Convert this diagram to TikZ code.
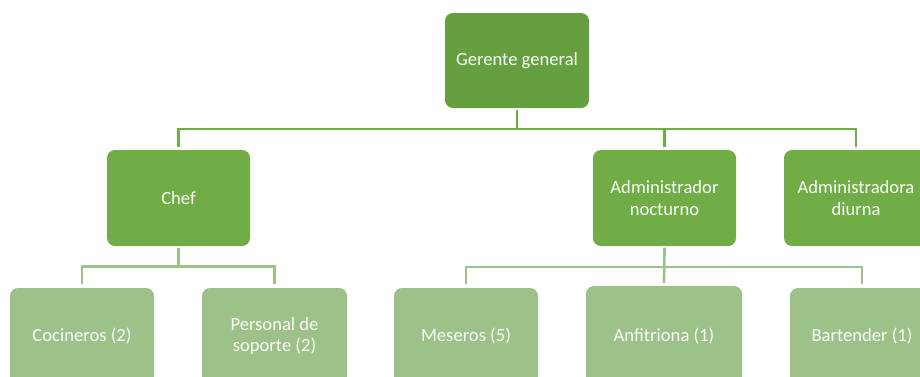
\documentclass[tikz,border=0pt]{standalone}
\usepackage{fontspec}
\setmainfont{Carlito}
\definecolor{gdark}{HTML}{669F3F}
\definecolor{gmid}{HTML}{70AD47}
\definecolor{glight}{HTML}{9DC289}
\definecolor{txt}{HTML}{F9FBF7}
\tikzset{
  box/.style={rectangle, rounded corners=8pt, inner sep=0pt, align=center,
    text=txt, font=\fontsize{18.6}{21.5}\selectfont, minimum width=144pt, minimum height=96pt},
  topbox/.style={box, fill=gdark},
  midbox/.style={box, fill=gmid},
  lowbox/.style={box, fill=glight},
  topline/.style={draw=gmid, line width=2.8pt},
  lowline/.style={draw=glight, line width=2.7pt},
}
\begin{document}
\begin{tikzpicture}[x=1pt,y=1pt]
\useasboundingbox (0,0) rectangle (920,-376);
\clip (0,0) rectangle (920,-376);
\node[topbox, minimum height=95pt] (ger) at (517,-60.5) {Gerente general};
\node[midbox, minimum width=143pt] (chef) at (178.5,-198) {Chef};
\node[midbox, minimum width=143pt] (admn) at (664.5,-198) {Administrador\\nocturno};
\node[midbox] (admd) at (856,-198) {Administradora\\diurna};
\node[lowbox] (coc) at (82,-336) {Cocineros (2)};
\node[lowbox, minimum width=145pt] (pers) at (274.5,-336) {Personal de\\soporte (2)};
\node[lowbox] (mes) at (466,-336) {Meseros (5)};
\node[lowbox, minimum width=156pt, minimum height=100pt] (anf) at (664,-336) {Anfitriona (1)};
\node[lowbox] (bar) at (862,-336) {Bartender (1)};
% top level connectors
\coordinate (bus1) at (517,-129);
\draw[topline] ([yshift=-2pt]ger.south) -- (bus1);
\draw[topline] ([yshift=3pt]chef.north) |- (bus1) -| ([yshift=3pt]admd.north);
\draw[topline] ([yshift=3pt]admn.north) -- (admn.north |- bus1);
% chef children
\coordinate (bus2) at (178.5,-266.5);
\draw[lowline] ([yshift=-1.5pt]chef.south) -- (bus2);
\draw[lowline] ([yshift=4pt]coc.north) |- (bus2) -| ([yshift=4pt]pers.north);
% admin nocturno children
\coordinate (bus3) at (664.5,-267);
\draw[lowline] ([yshift=-1.5pt]admn.south) -- ([yshift=3pt]anf.north);
\draw[lowline] ([yshift=4pt]mes.north) |- (bus3) -| ([yshift=4pt]bar.north);
\end{tikzpicture}
\end{document}
